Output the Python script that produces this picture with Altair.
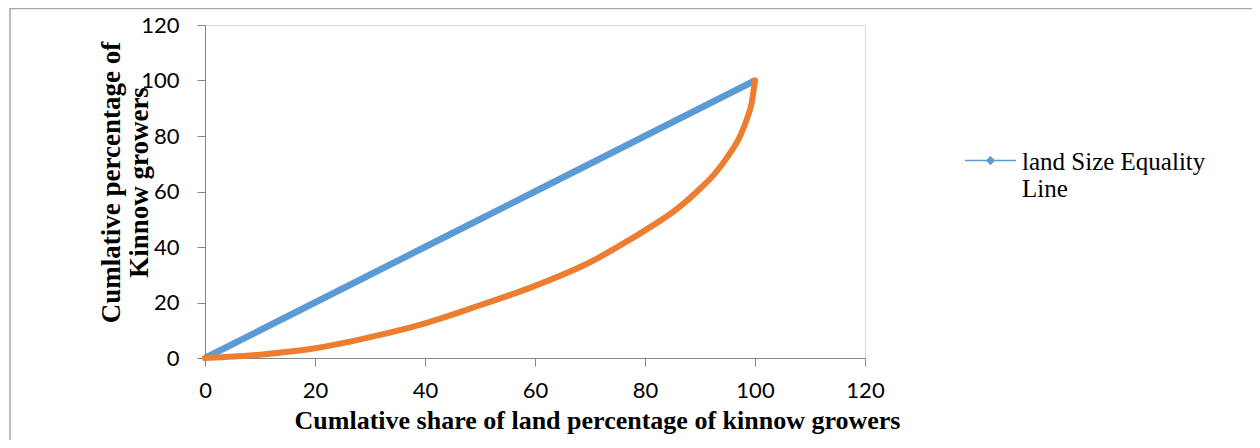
import altair as alt
import pandas as pd

# ---- data ----
series_names = ["land Size Equality Line", "Lorenz Curve"]
eq_x = [0, 10, 20, 30, 40, 50, 60, 70, 80, 90, 100]
eq_y = [0, 10, 20, 30, 40, 50, 60, 70, 80, 90, 100]
lor_x = [0, 10, 20, 30, 40, 50, 60, 70, 76.7, 80, 86, 90, 92.5, 95, 97.3, 98.5, 99.4, 100]
lor_y = [0, 1.2, 3.5, 7.5, 12.5, 19, 26, 34.5, 42, 46, 54, 61, 66, 72.5, 80, 86, 92, 100]
tick_values = [0, 20, 40, 60, 80, 100, 120]
x_title = "Cumlative share of land percentage of kinnow growers"
y_title = ["Cumlative percentage of", "Kinnow growers"]
legend_lines = ["land Size Equality", "Line"]

BLUE = "#5B9BD5"
ORANGE = "#ED7D31"
AXIS_GRAY = "#868686"

eq_df = pd.DataFrame({"x": eq_x, "y": eq_y, "series": series_names[0]})
lor_df = pd.DataFrame({"x": lor_x, "y": lor_y, "series": series_names[1]})

xscale = alt.Scale(domain=[0, 120], nice=False)
yscale = alt.Scale(domain=[0, 120], nice=False)

x_axis = alt.Axis(
    values=tick_values, title=x_title, grid=False, labelFlush=False,
    domainColor=AXIS_GRAY, tickColor=AXIS_GRAY, tickSize=8,
    labelFont="Lato", labelFontSize=22, labelColor="black", labelPadding=14,
    titleFont="Liberation Serif", titleFontWeight="bold", titleFontSize=26,
    titleColor="black", titleX=392, titleY=70, titleAlign="center",
    titleBaseline="alphabetic",
)
y_axis = alt.Axis(
    values=tick_values, title=y_title, grid=False, labelFlush=False,
    domainColor=AXIS_GRAY, tickColor=AXIS_GRAY, tickSize=8,
    labelFont="Lato", labelFontSize=22, labelColor="black", labelPadding=18,
    titleFont="Liberation Serif", titleFontWeight="bold", titleFontSize=27,
    titleColor="black", titleAngle=270, titleX=-86, titleY=157,
    titleAlign="center", titleBaseline="alphabetic", titleLineHeight=28,
)

legend_expr = "[" + ", ".join("'" + s + "'" for s in legend_lines) + "]"

eq_line = alt.Chart(eq_df).mark_line(strokeWidth=6.5).encode(
    x=alt.X("x:Q", scale=xscale, axis=x_axis),
    y=alt.Y("y:Q", scale=yscale, axis=y_axis),
    color=alt.Color(
        "series:N",
        scale=alt.Scale(domain=[series_names[0]], range=[BLUE]),
        legend=alt.Legend(
            title=None, orient="none", legendX=759, legendY=118,
            symbolType="M-1,-0.35L1,-0.35M0,-0.49L0.14,-0.35L0,-0.21L-0.14,-0.35Z",
            symbolSize=2600, symbolStrokeWidth=1.5,
            symbolFillColor=BLUE, symbolStrokeColor=BLUE,
            labelExpr=legend_expr, labelFont="Liberation Serif",
            labelFontSize=25, labelColor="black", labelOffset=5,
            labelLimit=0, labelBaseline="alphabetic",
        ),
    ),
)
eq_pts = alt.Chart(eq_df).mark_point(
    shape="diamond", filled=True, size=45, color=BLUE, opacity=1
).encode(x="x:Q", y="y:Q")

lor_line = alt.Chart(lor_df).mark_line(
    strokeWidth=6, color=ORANGE, interpolate="monotone", strokeCap="round"
).encode(x="x:Q", y="y:Q")

frame_left = alt.Chart(pd.DataFrame({"a": [0]})).mark_rule(
    color="#a6a6a6", strokeWidth=1.5
).encode(x=alt.value(-195), y=alt.value(-17), y2=alt.value(430))
frame_top = alt.Chart(pd.DataFrame({"a": [0]})).mark_rule(
    color="#a6a6a6", strokeWidth=1.5
).encode(x=alt.value(-195), x2=alt.value(1100), y=alt.value(-16.5))

chart = alt.layer(frame_left, frame_top, eq_line, eq_pts, lor_line).properties(
    width=660, height=333,
    autosize=alt.AutoSizeParams(type="none"),
    padding={"left": 197, "top": 17, "right": 387, "bottom": 82},
).configure_view(stroke=None).configure(background="white")

chart.save("out.html", embed_options={"renderer": "svg", "actions": False})
